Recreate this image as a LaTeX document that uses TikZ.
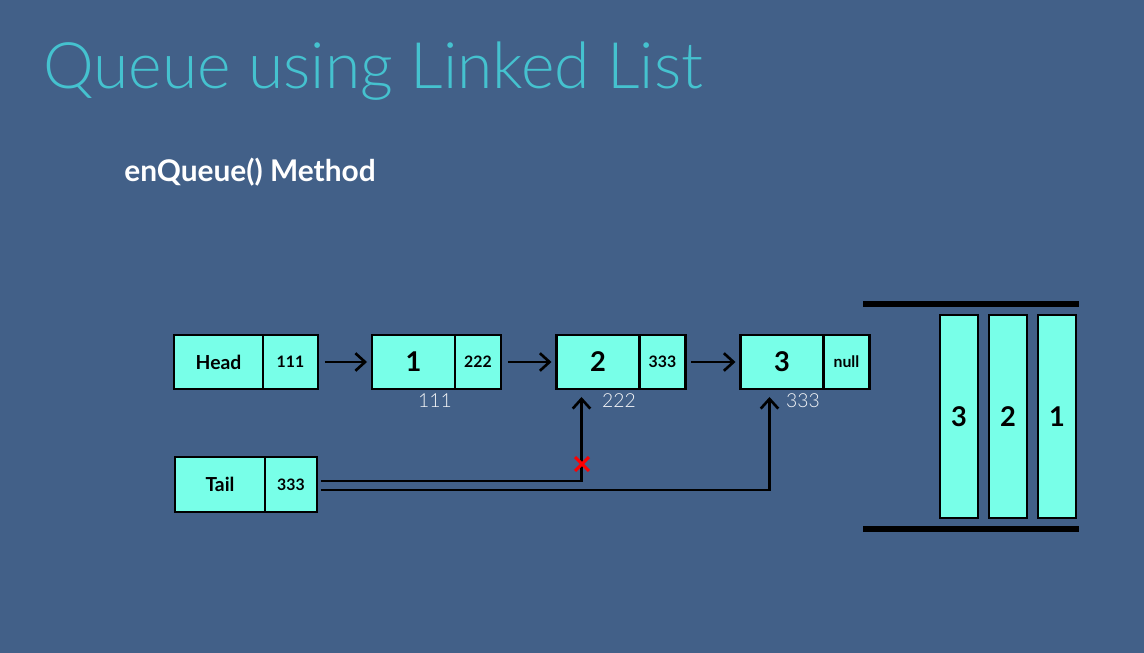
\documentclass[tikz,border=0pt]{standalone}
\usepackage{fontspec}
\setmainfont{Lato}
\newfontfamily\thinfont{Lato Light}
\usetikzlibrary{arrows.meta,positioning,shapes.misc}

\definecolor{slide}{RGB}{66,96,136}
\definecolor{cell}{RGB}{120,255,232}
\definecolor{headline}{RGB}{69,194,207}

\tikzset{
  cellbox/.style={draw=black,line width=1.6pt,fill=cell,minimum height=1.08cm,
                  inner sep=0pt,outer sep=0pt},
  namebox/.style={cellbox,font=\bfseries\fontsize{11}{12}\selectfont},
  valbox/.style={cellbox,font=\bfseries\fontsize{15.5}{16}\selectfont},
  ptrbox/.style={cellbox,font=\bfseries\fontsize{9}{10}\selectfont},
  addr/.style={text=white!95!slide,font=\thinfont\fontsize{11}{12}\selectfont,inner sep=0pt},
  slot/.style={draw=black,line width=1pt,fill=cell,minimum width=0.76cm,minimum height=4.06cm,
               inner sep=0pt,font=\bfseries\fontsize{15.5}{16}\selectfont},
  link/.style={line width=1.5pt},
  bar/.style={line width=0.12cm}
}

\begin{document}
\begin{tikzpicture}[x=0.02cm,y=-0.02cm]
\fill[slide] (0,0) rectangle (1144,653);

\node[anchor=base west,text=headline,inner sep=0pt,
      font=\thinfont\fontsize{36.5}{40}\selectfont] (title) at (43,88) {Queue using Linked List};
\node[anchor=base west,text=white,inner sep=0pt,
      font=\bfseries\fontsize{17}{18}\selectfont] (method) at (124,181) {enQueue() Method};

% linked list
\node[namebox,minimum width=1.78cm] (hv) at (218.5,362) {Head};
\node[ptrbox,minimum width=1.1cm,right=0pt of hv] (hp) {111};

\node[valbox,minimum width=1.66cm] (n1v) at (413.5,362) {1};
\node[ptrbox,minimum width=0.92cm,right=0pt of n1v] (n1p) {222};

\node[valbox,minimum width=1.66cm] (n2v) at (598,362) {2};
\node[ptrbox,minimum width=0.92cm,right=0pt of n2v] (n2p) {333};

\node[valbox,minimum width=1.66cm] (n3v) at (782,362) {3};
\node[ptrbox,minimum width=0.92cm,right=0pt of n3v] (n3p) {null};

\node[namebox,minimum width=1.8cm,minimum height=1.1cm] (tv) at (220,484.5) {Tail};
\node[ptrbox,minimum width=1.04cm,minimum height=1.1cm,right=0pt of tv] (tp) {333};

% addresses
\node[addr] (a1) at (435,401) {111};
\node[addr] (a2) at (619,401) {222};
\node[addr] (a3) at (803,401) {333};

\begin{scope}[>={Straight Barb[length=5.5pt,width=10pt]}]
    \draw [->,link,shorten <=0.14cm,shorten >=0.1cm] (hp) -- (n1v);
    \draw [->,link,shorten <=0.14cm,shorten >=0.1cm] (n1p) -- (n2v);
    \draw [->,link,shorten <=0.12cm,shorten >=0.1cm] (n2p) -- (n3v);

    \coordinate (t1) at ([shift={(4,-3.5)}]tp.east);
    \coordinate (t2) at ([shift={(4,5.5)}]tp.east);
    \draw [->,link,shorten >=0.16cm] (t1) -| ([shift={(25,0)}]n2v.south west);
    \draw [->,link,shorten >=0.16cm] (t2) -| ([shift={(29,0)}]n3v.south west);
\end{scope}

\node[cross out,draw=red,line width=1.7pt,minimum size=0.22cm,inner sep=0pt] (cut) at (582,464) {};

% queue
\coordinate (tl) at (863,304);
\coordinate (tr) at (1079,304);
\coordinate (bl) at (863,529);
\coordinate (br) at (1079,529);
\draw[bar] (tl) -- (tr);
\draw[bar] (bl) -- (br);

\node[slot] (s3) at (959,416.5) {3};
\node[slot] (s2) at (1008,416.5) {2};
\node[slot] (s1) at (1057,416.5) {1};
\end{tikzpicture}
\end{document}
